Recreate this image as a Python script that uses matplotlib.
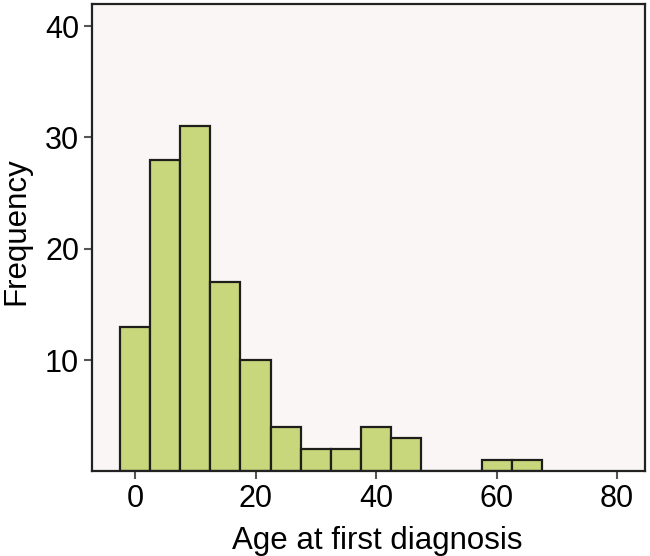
import matplotlib
matplotlib.use("Agg")
import matplotlib.pyplot as plt

plt.rcParams["font.family"] = ["Liberation Sans", "DejaVu Sans"]

# age bins (centre, width 5) and frequencies
bin_centers = [0, 5, 10, 15, 20, 25, 30, 35, 40, 45, 50, 55, 60, 65]
counts = [13, 28, 31, 17, 10, 4, 2, 2, 4, 3, 0, 0, 1, 1]
x_ticks = [0, 20, 40, 60, 80]
y_ticks = [10, 20, 30, 40]

fig = plt.figure(figsize=(6.5, 5.56), dpi=100)
ax = fig.add_axes([0.141, 0.152, 0.851, 0.841])
ax.set_facecolor("#faf6f5")

ax.bar(bin_centers, counts, width=5, align="center",
       color="#c9d77c", edgecolor="#1e1e1a", linewidth=1.6, zorder=2)

ax.set_xlim(-7.2, 84.6)
ax.set_ylim(0, 42)
ax.set_xticks(x_ticks)
ax.set_yticks(y_ticks)
ax.tick_params(axis="both", labelsize=22, length=6, width=1.5,
               color="#555555", direction="out", pad=3)

for side in ["left", "bottom", "top", "right"]:
    ax.spines[side].set_linewidth(1.6)
    ax.spines[side].set_color("#222222")

ax.set_xlabel("Age at first diagnosis", fontsize=22.5, labelpad=9)
ax.set_ylabel("Frequency", fontsize=22.5, labelpad=10)
# labels sit slightly off-centre in the original
ax.xaxis.label.set_x(0.517)
ax.yaxis.label.set_y(0.513)

fig.savefig("out.png", dpi=100)
